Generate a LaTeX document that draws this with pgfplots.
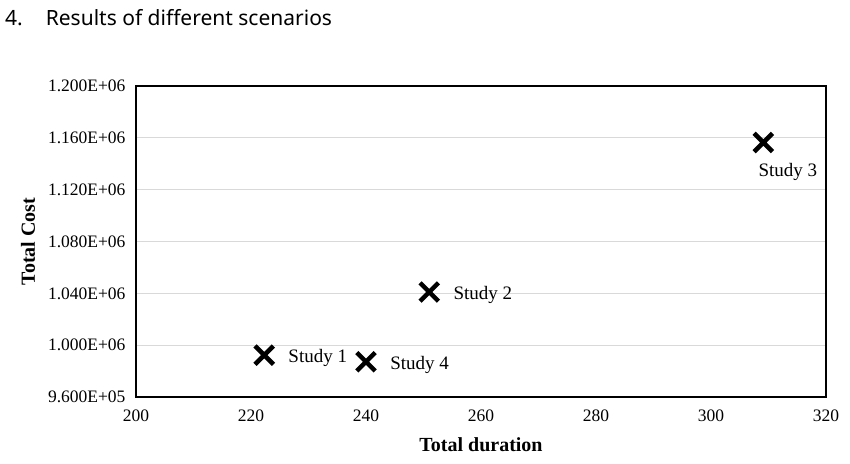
\documentclass[border=0pt]{standalone}
\usepackage{fontspec}
\setmainfont{Liberation Serif}
\newfontfamily\titlefont{Noto Sans}
\usepackage{pgfplots}
\pgfplotsset{compat=1.18}

\begin{document}
\begin{tikzpicture}
  \useasboundingbox (0,0) rectangle (850pt,463pt);
  % title
  \node[anchor=base west, inner sep=0] at (5pt,437pt)
    {\titlefont\fontsize{21}{24}\selectfont 4.\hspace{23pt}Results of different scenarios};
  \begin{axis}[
      at={(136pt,66pt)}, anchor=south west,
      scale only axis,
      width=690pt, height=311pt,
      xmin=200, xmax=320,
      ymin=960000, ymax=1200000,
      xtick={200,220,...,320},
      ytick={960000,1000000,1040000,1080000,1120000,1160000,1200000},
      yticklabels={9.600E+05,1.000E+06,1.040E+06,1.080E+06,1.120E+06,1.160E+06,1.200E+06},
      scaled y ticks=false,
      /pgf/number format/assume math mode=true,
      major tick length=0pt,
      ymajorgrids,
      grid style={color=black!15, line width=1pt},
      axis line style={black, line width=1.3pt},
      tick label style={font=\fontsize{17.5}{20}\selectfont},
      xticklabel style={yshift=-9pt},
      yticklabel style={xshift=-7pt},
      xlabel={Total duration},
      ylabel={Total Cost},
      label style={font=\bfseries\fontsize{20}{23}\selectfont},
      xlabel style={at={(axis description cs:0.5,-0.1768)}, anchor=base},
      ylabel style={at={(axis description cs:-0.1464,0.5)}, anchor=base},
      clip=false,
    ]
    % Studies 1, 2, 4
    \addplot[only marks, mark=x, mark size=13pt, line width=4.5pt, black,
      point meta=explicit symbolic,
      nodes near coords,
      nodes near coords style={anchor=base west, xshift=22pt, yshift=-7.5pt,
        font=\fontsize{19}{22}\selectfont, inner sep=0}]
      coordinates {
        (222.3,992300) [Study 1]
        (251.0,1041000) [Study 2]
        (240.0,987200) [Study 4]
      };
    % Study 3
    \addplot[only marks, mark=x, mark size=13pt, line width=4.5pt, black,
      point meta=explicit symbolic,
      nodes near coords,
      nodes near coords style={anchor=base west, xshift=-7pt, yshift=-34pt,
        font=\fontsize{19}{22}\selectfont, inner sep=0}]
      coordinates {
        (309.1,1156400) [Study 3]
      };
  \end{axis}
\end{tikzpicture}
\end{document}
